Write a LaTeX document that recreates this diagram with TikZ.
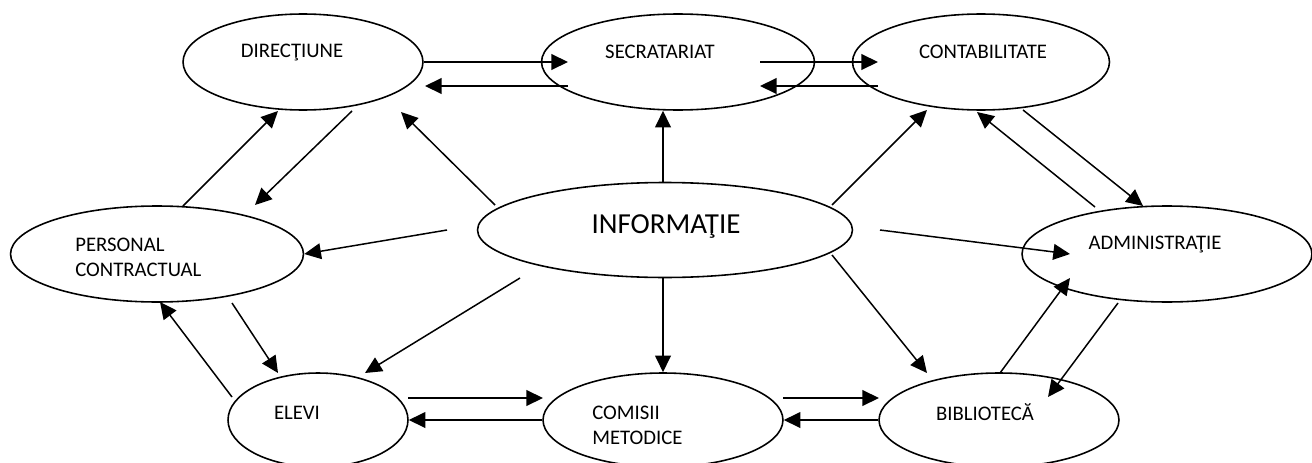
\documentclass[tikz,border=0pt]{standalone}
\usepackage{fontspec}
\setmainfont{Carlito}
\usetikzlibrary{calc,arrows.meta,shapes.geometric}

\begin{document}
\begin{tikzpicture}[x=0.02cm,y=-0.02cm,
    oval/.style={ellipse,draw,line width=0.9pt,inner sep=0pt},
    lbl/.style={font=\fontsize{11.8}{14.2}\selectfont,inner sep=0pt},
    arr/.style={line width=0.85pt,-{Triangle[length=9.5pt,width=9pt]}}]
  \useasboundingbox (0,0) rectangle (1312,463);
  \node[oval,minimum width=4.8cm,minimum height=1.92cm]  (dir)  at (303,62)  {};
  \node[oval,minimum width=5.46cm,minimum height=1.92cm] (sec)  at (678,62)  {};
  \node[oval,minimum width=5.14cm,minimum height=1.92cm] (con)  at (981,62)  {};
  \node[oval,minimum width=5.86cm,minimum height=1.92cm] (per)  at (157,254) {};
  \node[oval,minimum width=7.5cm,minimum height=1.9cm]   (info) at (665,230) {};
  \node[oval,minimum width=5.8cm,minimum height=1.92cm]  (adm)  at (1167,254) {};
  \node[oval,minimum width=3.6cm,minimum height=1.88cm]  (ele)  at (318,420) {};
  \node[oval,minimum width=4.8cm,minimum height=1.88cm]  (com)  at (663,420) {};
  \node[oval,minimum width=4.8cm,minimum height=1.88cm]  (bib)  at (999,420) {};
  % texts
  \node[lbl] (dirtxt) at (292,53) {DIRECŢIUNE};
  \node[lbl] (sectxt) at (660,52) {SECRATARIAT};
  \node[lbl] (contxt) at (983,52) {CONTABILITATE};
  \node[lbl,anchor=west,align=left] (pertxt) at (75,257) {PERSONAL\\CONTRACTUAL};
  \node[lbl,font=\fontsize{16.5}{20}\selectfont] (infotxt) at (666,227) {INFORMAŢIE};
  \node[lbl] (admtxt) at (1155,245) {ADMINISTRAŢIE};
  \node[lbl] (eletxt) at (297,413) {ELEVI};
  \node[lbl,anchor=west,align=left] (comtxt) at (592,425) {COMISII\\METODICE};
  \node[lbl] (bibtxt) at (985,412) {BIBLIOTECĂ};
  % top row
  \draw[arr] (dir.east) -- ($(sec)+(-110,0)$);
  \draw[arr] ($(sec)+(-110,24)$) -- ($(dir)+(122,24)$);
  \draw[arr] ($(sec)+(82,0)$) -- ($(con)+(-103,0)$);
  \draw[arr] ($(con)+(-103,24)$) -- ($(sec)+(82,24)$);
  % from the centre
  \draw[arr] ($(info)+(-170,-25)$) -- ($(dir)+(98,50)$);
  \draw[arr] ($(info.north)+(-2,0)$) -- ($(info.north |- sec.south)+(-2,0)$);
  \draw[arr] ($(info)+(167,-25)$) -- ($(con)+(-54,48)$);
  \draw[arr] ($(info)+(-218,0)$) -- (per.east);
  \draw[arr] ($(info)+(215,0)$) -- ($(adm)+(-97,0)$);
  \draw[arr] ($(info)+(-145,48)$) -- ($(ele)+(47,-47)$);
  \draw[arr] ($(info.south)+(-2,0)$) -- ($(info.south |- com.north)+(-2,0)$);
  \draw[arr] ($(info)+(167,25)$) -- ($(bib)+(-72,-47)$);
  % sides
  \draw[arr] ($(adm)+(-72,-47)$) -- ($(con)+(-4,50)$);
  \draw[arr] ($(con)+(42,48)$) -- ($(adm)+(-24,-48)$);
  \draw[arr] ($(per)+(26,-48)$) -- ($(dir)+(-25,49)$);
  \draw[arr] ($(dir)+(49,49)$) -- ($(per)+(98,-49)$);
  \draw[arr] ($(ele)+(-86,-23)$) -- ($(per)+(3,48)$);
  \draw[arr] ($(per)+(75,49)$) -- ($(ele)+(-40,-47)$);
  \draw[arr] ($(bib)+(1,-47)$) -- ($(adm)+(-97,24)$);
  \draw[arr] ($(adm)+(-49,49)$) -- ($(bib)+(49,-23)$);
  % bottom row
  \draw[arr] ($(ele)+(90,-22)$) -- ($(com)+(-120,-22)$);
  \draw[arr] (com.west) -- (ele.east);
  \draw[arr] ($(com)+(120,-22)$) -- ($(bib)+(-120,-22)$);
  \draw[arr] (bib.west) -- (com.east);
\end{tikzpicture}
\end{document}
